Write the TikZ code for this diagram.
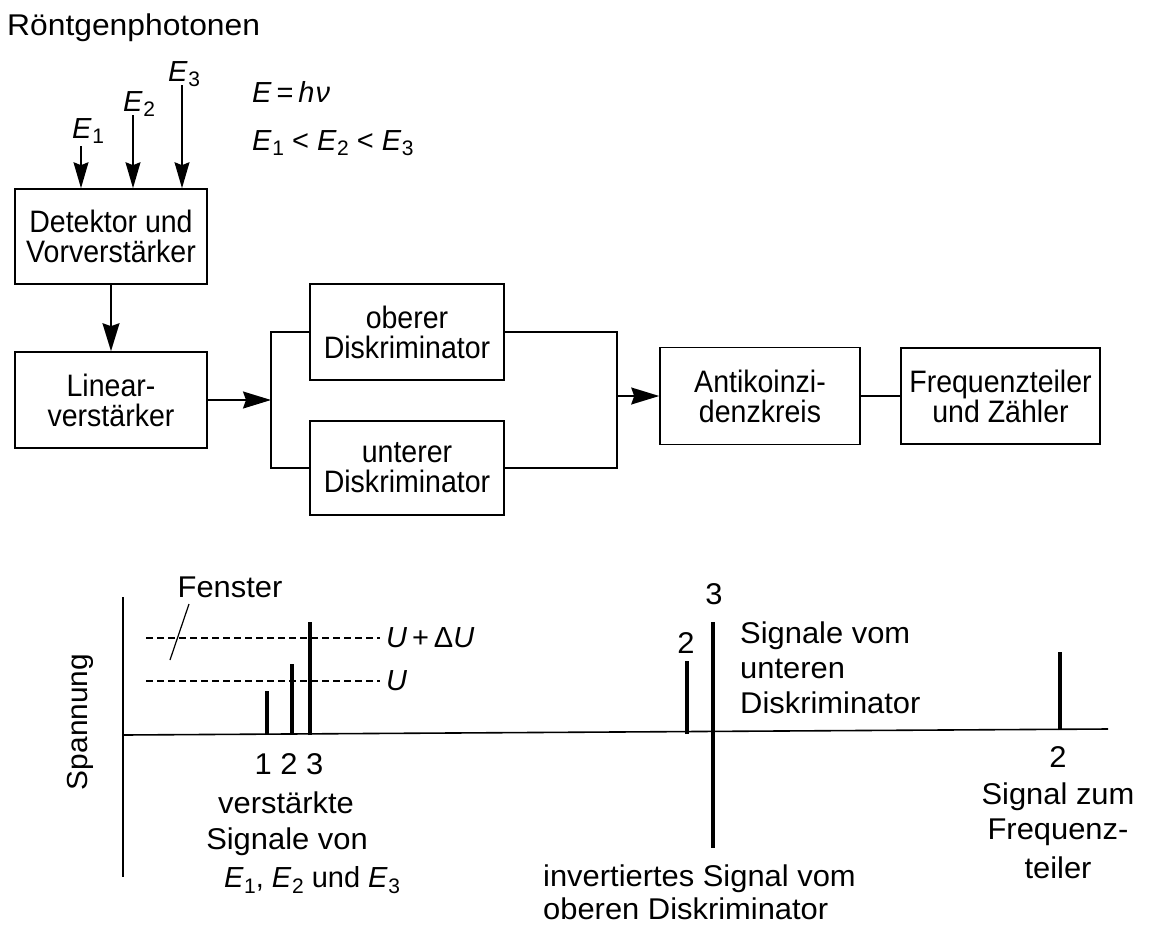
\documentclass[tikz,border=0pt]{standalone}
\usepackage{fontspec}
\setmainfont{Liberation Sans}
\newfontfamily\boxfont[FakeStretch=0.92]{Liberation Sans}
\newfontfamily\widefont[FakeStretch=1.03]{Liberation Sans}
\newfontfamily\rfont[FakeStretch=1.06]{Liberation Sans}
\usetikzlibrary{arrows.meta}
\newcommand{\sbs}[1]{\raisebox{-0.35ex}{\fontsize{21}{21}\selectfont #1}}
\newcommand{\Ei}[1]{\textit{E}\kern0.5pt\sbs{#1}}
\begin{document}
\begin{tikzpicture}[x=1pt,y=-1pt,
  every node/.style={font=\widefont\fontsize{30}{32}\selectfont, inner sep=0pt},
  blk/.style={draw, line width=1.6pt, align=center, font=\boxfont\fontsize{31}{30}\selectfont},
  lbl/.style={font=\fontsize{29}{30}\selectfont},
  ln/.style={line width=1.6pt},
  bigarr/.style={line width=1.6pt, -{Stealth[length=28pt,width=17pt,inset=3pt]}},
  earr/.style={line width=1.4pt, -{Stealth[length=26pt,width=15pt,inset=3pt]}},
  dashline/.style={line width=1.2pt, dash pattern=on 7pt off 4pt},
  bar/.style={line width=4.5pt}]
\useasboundingbox (0,0) rectangle (1159,924);

% boxes
\node[blk, minimum width=192pt, minimum height=95pt] (det) at (111,236.5) {Detektor und\\Vorverstärker};
\node[blk, minimum width=192pt, minimum height=96pt] (lin) at (111,400) {Linear-\\verstärker};
\node[blk, minimum width=194pt, minimum height=96pt] (obe) at (407,332) {oberer\\Diskriminator};
\node[blk, minimum width=194pt, minimum height=94pt] (unt) at (407,468) {unterer\\Diskriminator};
\node[blk, minimum width=200pt, minimum height=97pt] (anti) at (760,396) {Antikoinzi-\\denzkreis};
\node[blk, minimum width=199pt, minimum height=96pt] (freq) at (1000.5,396) {Frequenzteiler\\und Zähler};

% top texts
\node[anchor=base west, font=\rfont\fontsize{30}{30}\selectfont] (rp) at (7,35) {Röntgenphotonen};
\node[anchor=base west, lbl] (le1) at (72,138) {\Ei{1}};
\node[anchor=base west, lbl] (le2) at (123,111) {\Ei{2}};
\node[anchor=base west, lbl] (le3) at (168,81) {\Ei{3}};
\node[anchor=base west, lbl] (form1) at (252,102) {\textit{E}\,=\,\textit{h\kern1pt ν}};
\node[anchor=base west, lbl] (form2) at (252,150) {\Ei{1} < \Ei{2} < \Ei{3}};

\coordinate (s1) at (81,146);
\coordinate (s2) at (133,115);
\coordinate (s3) at (182,85);
\draw[earr] (s1) -- (s1 |- det.north);
\draw[earr] (s2) -- (s2 |- det.north);
\draw[earr] (s3) -- (s3 |- det.north);

% connectors
\draw[bigarr] (det.south) -- (lin.north);
\coordinate (lb) at (271,400);
\coordinate (rb) at (617,396);
\draw[ln] (obe.west) -| (lb) |- (unt.west);
\draw[bigarr] (lin.east) -- (lb);
\draw[ln] (obe.east) -| (rb) |- (unt.east);
\draw[bigarr] (rb) -- (anti.west);
\draw[ln] (anti.east) -- (freq.west);

% graph
\draw[ln] (123,597) -- (123,877);
\draw[ln] (123,735) -- (1108,729);
\node[rotate=90, font=\widefont\fontsize{29}{30}\selectfont] (sp) at (80,722) {Spannung};
\node (fen) at (230,587) {Fenster};
\draw[line width=1.2pt] (189,604) -- (170,660);
\draw[dashline] (146,638) -- (380,638);
\draw[dashline] (146,681) -- (380,681);
\node[anchor=west, lbl] (uplus) at (386,638) {\textit{U}\,+\,Δ\textit{U}};
\node[anchor=west, lbl] (u) at (386,681) {\textit{U}};
\draw[bar] (267,735) -- (267,691);
\draw[bar] (292,735) -- (292,664);
\draw[bar] (310,735) -- (310,622);
\node (n123) at (289,764) {1 2 3};
\node (vs1) at (286,803) {verstärkte};
\node (vs2) at (287,842) {Signale von};
\node[lbl] (vs3) at (312,880) {\Ei{1}, \Ei{2} und \Ei{3}};

\draw[bar] (687,734) -- (687,661);
\node (l2) at (686,643) {2};
\draw[line width=4pt] (713,622) -- (713,848);
\node (l3) at (714,594) {3};
\node[anchor=west] (su1) at (740,636) {Signale vom};
\node[anchor=west] (su2) at (740,669) {unteren};
\node[anchor=west] (su3) at (740,703) {Diskriminator};

\draw[line width=4pt] (1060,730) -- (1060,652);
\node (r2) at (1058,757) {2};
\node (sz1) at (1058,797) {Signal zum};
\node (sz2) at (1058,832) {Frequenz-};
\node (sz3) at (1058,868) {teiler};

\node[anchor=west] (inv1) at (543,879) {invertiertes Signal vom};
\node[anchor=west] (inv2) at (543,909) {oberen Diskriminator};
\end{tikzpicture}
\end{document}
